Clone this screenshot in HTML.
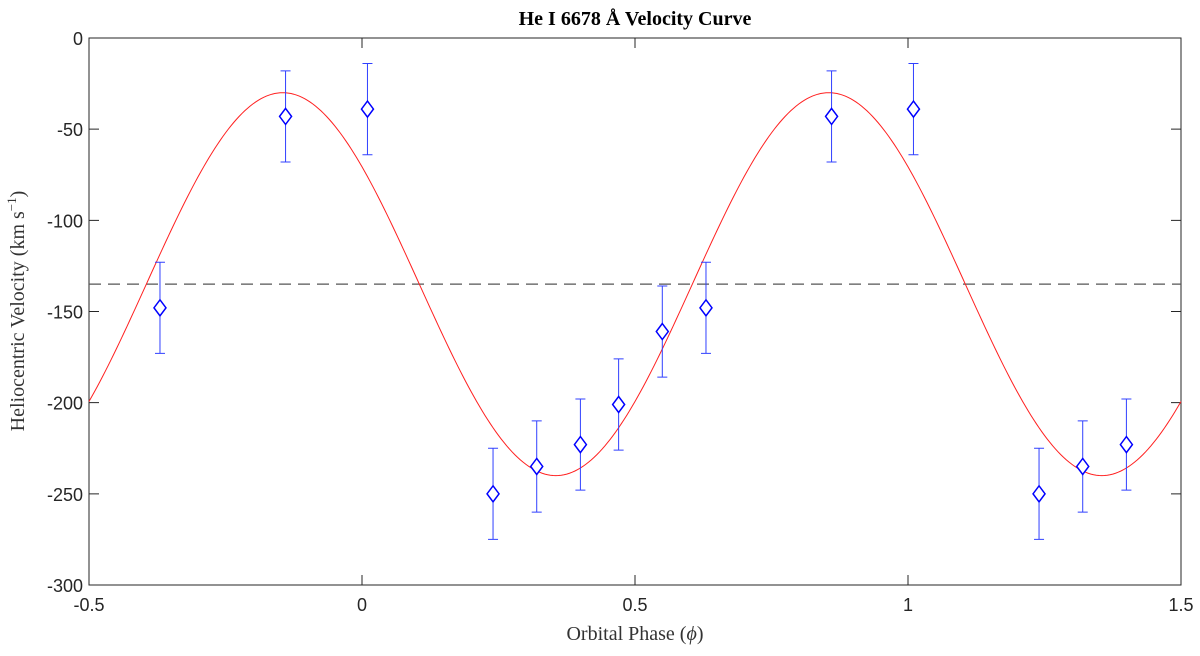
<!DOCTYPE html>
<html><head><meta charset="utf-8"><style>
body{margin:0;background:#fff;}
svg text{font-family:"Liberation Sans",sans-serif;}
</style></head><body>
<svg id="chart" width="1200" height="651" xmlns="http://www.w3.org/2000/svg">
<text x="635" y="25" text-anchor="middle" font-weight="bold" font-size="20" style="font-family:'Liberation Serif',serif">He I 6678 Å Velocity Curve</text>
<text x="635" y="640" text-anchor="middle" font-size="20" style="font-family:'Liberation Serif',serif" fill="#333">Orbital Phase (<tspan font-style="italic">ϕ</tspan>)</text>
<text transform="translate(24,311) rotate(-90)" text-anchor="middle" font-size="20" style="font-family:'Liberation Serif',serif" fill="#333">Heliocentric Velocity (km s<tspan dy="-8" font-size="13">−1</tspan><tspan dy="8">)</tspan></text>
<g id="plot"></g>
</svg>
<script>
const phases=[-0.37,-0.14,0.01,0.24,0.32,0.40,0.47,0.55,0.63,0.86,1.01,1.24,1.32,1.40];
const velocities=[-148,-43,-39,-250,-235,-223,-201,-161,-148,-43,-39,-250,-235,-223];
const errors=[25,25,25,25,25,25,25,25,25,25,25,25,25,25];
const xTicks=[-0.5,0,0.5,1,1.5];
const xTickLabels=["-0.5","0","0.5","1","1.5"];
const yTicks=[0,-50,-100,-150,-200,-250,-300];
const yTickLabels=["0","-50","-100","-150","-200","-250","-300"];
const gammaVel=-135, amplitude=105, phaseMax=-0.145;

const X0=89,X1=1181,Y0=38,Y1=585;
const xs=v=>X0+(v+0.5)/2*(X1-X0);
const ys=v=>Y0+(0-v)/300*(Y1-Y0);
const NS="http://www.w3.org/2000/svg";
const g=document.getElementById('plot');
function mk(t,a){const e=document.createElementNS(NS,t);for(const k in a)e.setAttribute(k,a[k]);g.appendChild(e);return e;}

let r=mk('rect',{x:X0,y:Y0,width:X1-X0,height:Y1-Y0,fill:'none',stroke:'#262626','stroke-width':1});


xTicks.forEach((t,i)=>{
  const x=xs(t);
  let l=mk('path',{d:`M${x},${Y1}V${Y1-10}M${x},${Y0}V${Y0+10}`,stroke:'#262626'});
  
  
  let tx=mk('text',{x:x,y:Y1+26,'text-anchor':'middle','font-size':18,fill:'#262626'});
  tx.textContent=xTickLabels[i];
  
  
});
yTicks.forEach((t,i)=>{
  const y=ys(t);
  let l=mk('path',{d:`M${X0},${y}H${X0+10}M${X1},${y}H${X1-10}`,stroke:'#262626'});
  
  
  let tx=mk('text',{x:X0-6,y:y+7,'text-anchor':'end','font-size':18,fill:'#262626'});
  tx.textContent=yTickLabels[i];
  
  
});
let dl=mk('line',{x1:X0,x2:X1,y1:ys(gammaVel),y2:ys(gammaVel),stroke:'#555','stroke-dasharray':'12,7','stroke-width':1.3});


let d='';
for(let i=0;i<=400;i++){const p=-0.5+2*i/400;const v=gammaVel+amplitude*Math.cos(2*Math.PI*(p-phaseMax));d+=(i?'L':'M')+xs(p).toFixed(2)+','+ys(v).toFixed(2);}
let fit=mk('path',{d:d,fill:'none',stroke:'#ff2020','stroke-width':1});


phases.forEach((p,i)=>{
  const x=xs(p),y=ys(velocities[i]),yt=ys(velocities[i]+errors[i]),yb=ys(velocities[i]-errors[i]);
  let e=mk('path',{d:`M${x},${yt}V${yb}M${x-5},${yt}H${x+5}M${x-5},${yb}H${x+5}`,stroke:'#3040ff','stroke-width':1,fill:'none'});
  
  
  let m=mk('path',{d:`M${x},${y-8}L${x+6},${y}L${x},${y+8}L${x-6},${y}Z`,stroke:'#0000ff','stroke-width':1.5,fill:'#fff'});
  
  
});
</script>
</body></html>
